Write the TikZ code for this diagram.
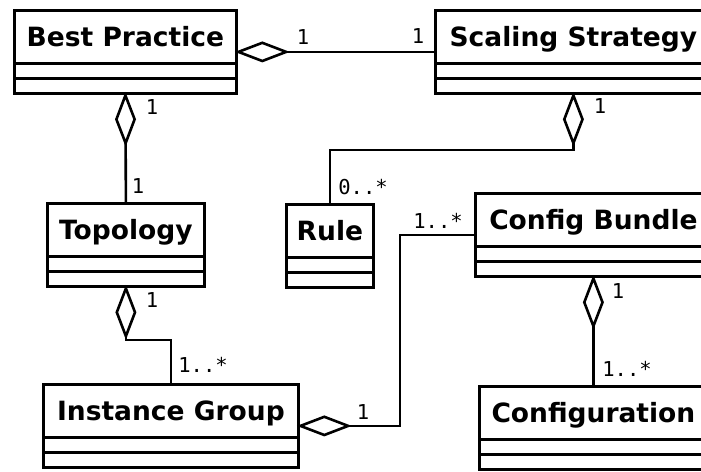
\documentclass[tikz,border=0pt]{standalone}
\usepackage{fontspec}
\newfontfamily\namefont{DejaVu Sans}
\newfontfamily\multfont{DejaVu Sans Mono}
\usetikzlibrary{arrows.meta}

\begin{document}
\begin{tikzpicture}[x=1pt,y=-1pt,
umlclass/.style={draw,line width=2.8pt,anchor=north west,inner sep=0pt,minimum height=83pt,text height=22pt,text depth=33pt,font=\namefont\bfseries\fontsize{26.5}{30}\selectfont,
path picture={\draw[line width=2.8pt] ([yshift=-53pt]path picture bounding box.north west) -- ([yshift=-53pt]path picture bounding box.north east) ([yshift=-68pt]path picture bounding box.north west) -- ([yshift=-68pt]path picture bounding box.north east);}},
aggr/.style={line width=2.6pt,shorten <=-3pt,{Diamond[open,length=55pt,width=21pt]}-},
mult/.style={inner sep=0pt,font=\multfont\fontsize{20.5}{24}\selectfont}]
\useasboundingbox (0,0) rectangle (701,471);
\clip (0,0) rectangle (701,471);
\draw(13,9) node[umlclass,minimum width=222pt] (practice) {Best Practice};
\draw(434,9) node[umlclass,minimum width=276pt] (scaling) {Scaling Strategy};
\draw(46,202) node[umlclass,minimum width=157pt] (topology) {Topology};
\draw(285,203) node[umlclass,minimum width=87pt] (rule) {Rule};
\draw(474,192) node[umlclass,minimum width=236pt] (bundle) {Config Bundle};
\draw(42,383) node[umlclass,minimum width=255pt] (group) {Instance Group};
\draw(478,385) node[umlclass,minimum width=228pt] (configuration) {Configuration};
\draw[aggr] (practice.east) -- (scaling.west);
\draw[aggr] (practice.south) -- (topology.north);
\draw[aggr] (scaling.south) -- ++(0,55) -| (rule.north);
\draw[aggr] (topology.south) -- ++(0,52) -| (group.north);
\draw[aggr] (group.east) -- ++(100,0) |- (bundle.west);
\draw[aggr] (bundle.south) -- (configuration.north);
\draw(303,37) node[mult] (ps1) {1};
\draw(418,36) node[mult] (ps2) {1};
\draw(152,107) node[mult] (pt1) {1};
\draw(138,186) node[mult] (pt2) {1};
\draw(600,106) node[mult] (sr1) {1};
\draw(363,187) node[mult] (sr2) {0..*};
\draw(152,300) node[mult] (tg1) {1};
\draw(203,365) node[mult] (tg2) {1..*};
\draw(363,412) node[mult] (gb1) {1};
\draw(438,221) node[mult] (gb2) {1..*};
\draw(618,291) node[mult] (bc1) {1};
\draw(627,369) node[mult] (bc2) {1..*};
\end{tikzpicture}
\end{document}
